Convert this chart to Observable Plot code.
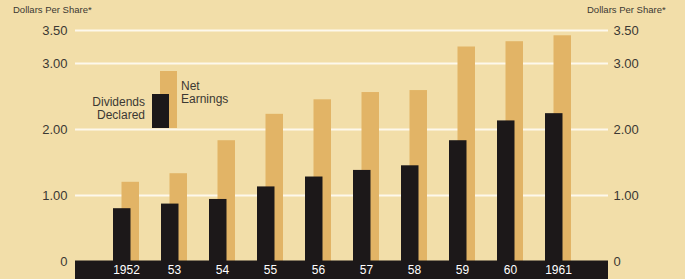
<!DOCTYPE html>
<html>
<head>
<meta charset="utf-8">
<script src="https://cdn.jsdelivr.net/npm/d3@7"></script>
<script src="https://cdn.jsdelivr.net/npm/@observablehq/plot@0.6"></script>
<style>
  html, body { margin: 0; padding: 0; background: #f2dea9; }
  #wrap { position: relative; width: 685px; height: 279px; overflow: hidden; font-family: "Liberation Sans", Arial, sans-serif; color: #3b3833; }
  .unit { position: absolute; top: 4px; font-size: 9.5px; white-space: nowrap; }
  .leg { position: absolute; font-size: 12px; line-height: 13px; }
  .sw { position: absolute; }
</style>
</head>
<body>
<div id="wrap"></div>
<script>
const years = [1952, 1953, 1954, 1955, 1956, 1957, 1958, 1959, 1960, 1961];
const yearLabels = ["1952", "53", "54", "55", "56", "57", "58", "59", "60", "1961"];
const netEarnings = [1.20, 1.33, 1.83, 2.23, 2.45, 2.56, 2.59, 3.25, 3.33, 3.42];
const dividendsDeclared = [0.80, 0.87, 0.94, 1.13, 1.28, 1.38, 1.45, 1.83, 2.13, 2.24];
const yTicks = [0, 1, 2, 3, 3.5];
const gridTicks = [1, 2, 3, 3.5];
const unitLabel = "Dollars Per Share*";
const seriesNames = ["Net Earnings", "Dividends Declared"];

const GOLD = "#e2b466";
const BLACK = "#1c1819";
const TEXT = "#3b3833";

const rows = years.map((year, i) => ({year, earnings: netEarnings[i], dividends: dividendsDeclared[i]}));
const labelOf = new Map(years.map((y, i) => [y, yearLabels[i]]));
const yFmt = d => d === 0 ? "0" : d.toFixed(2);

const chart = Plot.plot({
  width: 685,
  height: 279,
  marginLeft: 75,
  marginRight: 77,
  marginTop: 30,
  marginBottom: 18,
  style: {background: "transparent", fontFamily: "\"Liberation Sans\", Arial, sans-serif", overflow: "visible"},
  x: {type: "band", domain: years, paddingInner: 0.46, paddingOuter: 0.75},
  y: {domain: [0, 3.5]},
  marks: [
    Plot.gridY(gridTicks, {stroke: "#fdf8ec", strokeOpacity: 1, strokeWidth: 2}),
    Plot.barY(rows, {x: "year", y: "earnings", fill: GOLD, insetLeft: 8.5, insetRight: 0}),
    Plot.barY(rows, {x: "year", y: "dividends", fill: BLACK, insetLeft: 0, insetRight: 8.5}),
    Plot.ruleY([0], {stroke: BLACK, strokeWidth: 21, dy: 9.5}),
    Plot.axisX({tickSize: 0, tickPadding: 4, tickFormat: d => labelOf.get(d), color: "#ffffff", fontSize: 12, label: null}),
    Plot.axisY(yTicks, {anchor: "left", tickSize: 0, tickPadding: 8, tickFormat: yFmt, fontSize: 13, color: TEXT, label: null}),
    Plot.axisY(yTicks, {anchor: "right", tickSize: 0, tickPadding: 5, tickFormat: yFmt, fontSize: 13, color: TEXT, label: null})
  ]
});

const wrap = document.getElementById("wrap");
wrap.appendChild(chart);

function add(cls, text, css) {
  const d = document.createElement("div");
  d.className = cls;
  if (text) d.innerHTML = text;
  Object.assign(d.style, css);
  wrap.appendChild(d);
}
add("unit", unitLabel, {left: "13px"});
add("unit", unitLabel, {left: "587px"});
// legend
add("sw", "", {left: "160px", top: "71px", width: "17px", height: "57px", background: GOLD});
add("sw", "", {left: "152px", top: "94px", width: "17px", height: "34px", background: BLACK});
add("leg", seriesNames[0].replace(" ", "<br>"), {left: "181px", top: "80px", textAlign: "left"});
add("leg", seriesNames[1].replace(" ", "<br>"), {right: (685 - 145) + "px", top: "96px", textAlign: "right"});
</script>
</body>
</html>
